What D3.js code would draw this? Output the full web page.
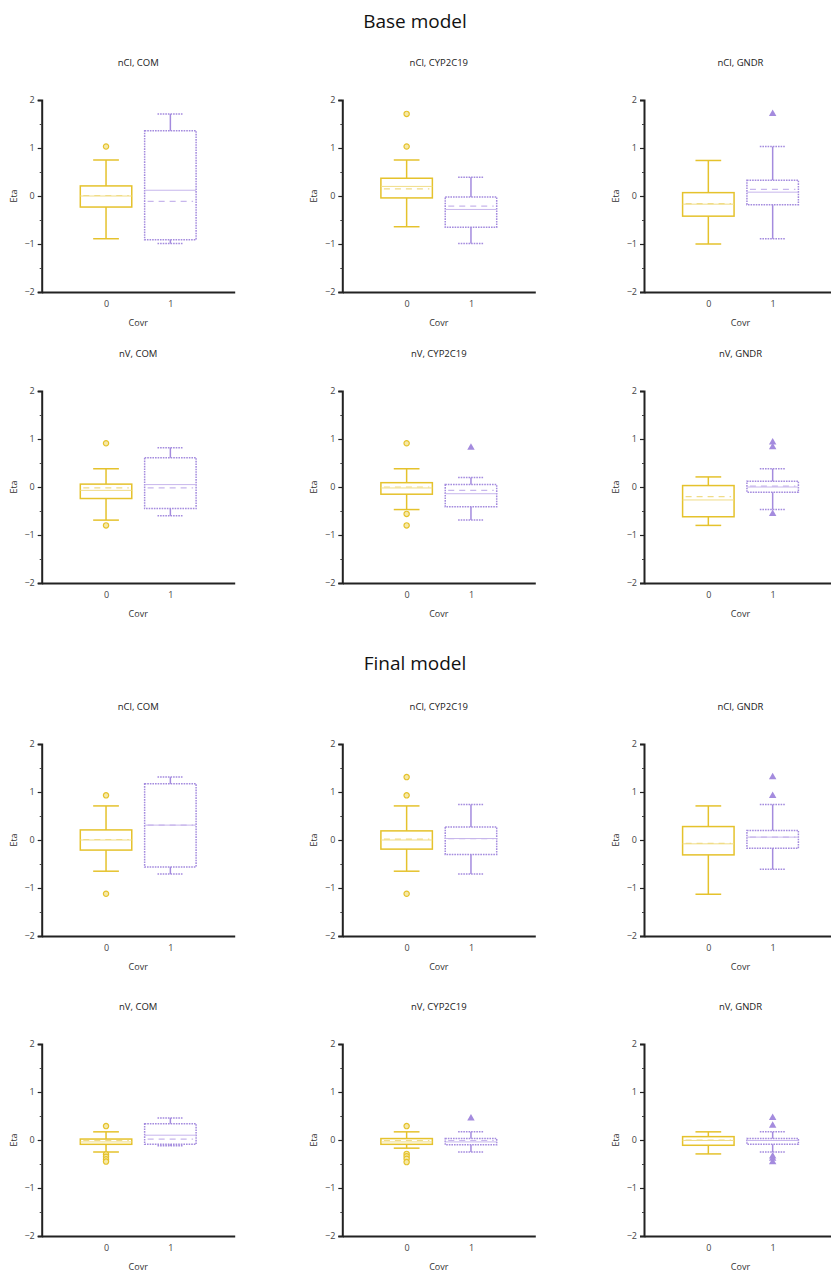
<!DOCTYPE html>
<html>
<head>
<meta charset="utf-8">
<script src="https://cdn.jsdelivr.net/npm/d3@7"></script>
<style>
  body { margin: 0; background: #fff; }
  svg { display: block; font-family: "Open Sans", "Liberation Sans", sans-serif; }
</style>
</head>
<body>
<svg id="chart" width="831" height="1273"></svg>
<script>
// ---------- DATA ----------
const modelTitles = ["Base model", "Final model"];
const panelTitles = [
  "nCl, COM", "nCl, CYP2C19", "nCl, GNDR",
  "nV, COM", "nV, CYP2C19", "nV, GNDR",
  "nCl, COM", "nCl, CYP2C19", "nCl, GNDR",
  "nV, COM", "nV, CYP2C19", "nV, GNDR"
];
const xCategories = [0, 1];
const yTicks = [-2, -1, 0, 1, 2];
const yMinorTicks = [-1.5, -0.5, 0.5, 1.5];
const xLabel = "Covr";
const yLabel = "Eta";
// [whiskerLow, q1, median, mean, q3, whiskerHigh]
const covr0Stats = [
  [-0.89, -0.23, 0.00, 0.01, 0.21, 0.75],
  [-0.64, -0.04, 0.20, 0.15, 0.37, 0.75],
  [-1.00, -0.42, -0.17, -0.16, 0.07, 0.74],
  [-0.69, -0.24, -0.07, -0.02, 0.06, 0.38],
  [-0.47, -0.15, -0.02, 0.00, 0.09, 0.38],
  [-0.80, -0.62, -0.27, -0.20, 0.03, 0.21],
  [-0.65, -0.21, 0.00, 0.01, 0.21, 0.71],
  [-0.65, -0.19, 0.00, 0.02, 0.19, 0.71],
  [-1.13, -0.31, -0.08, -0.07, 0.28, 0.71],
  [-0.25, -0.09, -0.04, -0.01, 0.02, 0.17],
  [-0.17, -0.09, -0.04, -0.01, 0.03, 0.17],
  [-0.29, -0.11, -0.01, 0.00, 0.07, 0.17]
];
const covr1Stats = [
  [-0.99, -0.91, 0.12, -0.11, 1.36, 1.71],
  [-0.99, -0.65, -0.28, -0.21, -0.02, 0.39],
  [-0.89, -0.18, 0.08, 0.14, 0.33, 1.03],
  [-0.60, -0.45, 0.05, -0.02, 0.61, 0.82],
  [-0.69, -0.41, -0.14, -0.07, 0.05, 0.20],
  [-0.47, -0.11, 0.00, 0.02, 0.12, 0.38],
  [-0.71, -0.56, 0.31, 0.31, 1.17, 1.31],
  [-0.71, -0.30, 0.03, 0.03, 0.27, 0.74],
  [-0.61, -0.17, 0.06, 0.06, 0.20, 0.74],
  [-0.12, -0.09, 0.10, 0.02, 0.34, 0.46],
  [-0.25, -0.10, -0.04, -0.01, 0.03, 0.17],
  [-0.25, -0.09, -0.01, -0.01, 0.03, 0.17]
];
const covr0Outliers = [
  [1.03],
  [1.71, 1.03],
  [],
  [0.91, -0.80],
  [0.91, -0.56, -0.80],
  [],
  [0.93, -1.12],
  [1.31, 0.93, -1.12],
  [],
  [0.29, -0.30, -0.35, -0.40, -0.45],
  [0.29, -0.29, -0.34, -0.39, -0.46],
  []
];
const covr1Outliers = [
  [],
  [],
  [1.71],
  [],
  [0.82],
  [0.93, 0.83, -0.56],
  [],
  [],
  [1.31, 0.92],
  [],
  [0.45],
  [0.46, 0.30, -0.34, -0.39, -0.46]
];

// ---------- LAYOUT ----------
const colX = [41.7, 342.3, 644];
const rowY = [100, 391, 744, 1044];
const plotW = 193, plotH = 192;
const modelTitleY = [28, 670];
const colors = {
  c0: "#E5C22C", c0light: "#F0DC86", c0fill: "#F6E9A8",
  c1: "#A48BDE", c1light: "#C7B6EC"
};

const svg = d3.select("#chart");

svg.selectAll("text.model").data(modelTitles).join("text")
  .attr("class", "model")
  .attr("x", 415).attr("y", (d, i) => modelTitleY[i])
  .attr("text-anchor", "middle")
  .attr("font-size", 19).attr("fill", "#111")
  .text(d => d);

const x = d3.scaleLinear().domain([-1, 2]).range([0, plotW]);
const y = d3.scaleLinear().domain([-2, 2]).range([plotH, 0]);
const boxHalf = 0.4, capHalf = 0.2;

panelTitles.forEach((title, i) => {
  const r = Math.floor(i / 3), c = i % 3;
  const g = svg.append("g").attr("transform", `translate(${colX[c]},${rowY[r]})`);

  g.append("text").attr("x", plotW / 2).attr("y", -34)
    .attr("text-anchor", "middle").attr("font-size", 9.5).attr("fill", "#222")
    .text(title);

  // y axis
  const yAxis = d3.axisLeft(y).tickValues(yTicks).tickSize(4).tickPadding(3).tickFormat(d3.format("d"));
  const ya = g.append("g").call(yAxis);
  ya.select(".domain").attr("stroke", "#222").attr("stroke-width", 2);
  ya.selectAll(".tick line").attr("stroke", "#222").attr("stroke-width", 1.2);
  ya.selectAll(".tick text").attr("font-size", 9).attr("fill", "#444")
    .attr("font-family", "Open Sans, Liberation Sans, sans-serif");
  const yMinor = d3.axisLeft(y).tickValues(yMinorTicks).tickSize(2).tickFormat("");
  const ym = g.append("g").call(yMinor);
  ym.select(".domain").remove();
  ym.selectAll(".tick line").attr("stroke", "#444").attr("stroke-width", 1);

  // x axis
  const xAxis = d3.axisBottom(x).tickValues(xCategories).tickSize(0).tickPadding(9).tickFormat(d3.format("d"));
  const xa = g.append("g").attr("transform", `translate(0,${plotH})`).call(xAxis);
  xa.select(".domain").attr("stroke", "#222").attr("stroke-width", 2);
  xa.selectAll(".tick text").attr("font-size", 9).attr("fill", "#444")
    .attr("font-family", "Open Sans, Liberation Sans, sans-serif");

  g.append("text").attr("x", plotW / 2).attr("y", plotH + 34)
    .attr("text-anchor", "middle").attr("font-size", 9).attr("fill", "#333").text(xLabel);
  g.append("text").attr("transform", `translate(-25,${plotH / 2}) rotate(-90)`)
    .attr("text-anchor", "middle").attr("font-size", 9).attr("fill", "#333").text(yLabel);

  const groups = [
    { cat: 0, s: covr0Stats[i], out: covr0Outliers[i], col: colors.c0, light: colors.c0light, dash: null, sym: d3.symbolCircle },
    { cat: 1, s: covr1Stats[i], out: covr1Outliers[i], col: colors.c1, light: colors.c1light, dash: "1.6,1", sym: d3.symbolTriangle }
  ];
  groups.forEach(gr => {
    const [wl, q1, med, mean, q3, wh] = gr.s;
    const cx = x(gr.cat);
    const bx0 = x(gr.cat - boxHalf), bx1 = x(gr.cat + boxHalf);
    const cp0 = x(gr.cat - capHalf), cp1 = x(gr.cat + capHalf);
    const sw = 1.5;
    const line = (x1, y1, x2, y2, opts = {}) => g.append("line")
      .attr("x1", x1).attr("y1", y1).attr("x2", x2).attr("y2", y2)
      .attr("stroke", opts.color || gr.col).attr("stroke-width", opts.w || sw)
      .attr("stroke-dasharray", opts.dash === undefined ? gr.dash : opts.dash);
    // whiskers
    line(cx, y(q3), cx, y(wh), { dash: null });
    line(cx, y(q1), cx, y(wl), { dash: null });
    line(cp0, y(wh), cp1, y(wh));
    line(cp0, y(wl), cp1, y(wl));
    // box
    g.append("rect").attr("x", bx0).attr("y", y(q3))
      .attr("width", bx1 - bx0).attr("height", y(q1) - y(q3))
      .attr("fill", "none").attr("stroke", gr.col).attr("stroke-width", sw)
      .attr("stroke-dasharray", gr.dash);
    // median (solid) and mean (dashed)
    line(bx0, y(med), bx1, y(med), { color: gr.light, w: 1, dash: null });
    line(bx0 + 3, y(mean), bx1 - 3, y(mean), { color: gr.light, w: 1.2, dash: "6,5" });
    // outliers
    g.selectAll(null).data(gr.out).join("path")
      .attr("transform", d => `translate(${cx},${y(d)})`)
      .attr("d", d3.symbol().type(gr.sym).size(gr.cat === 0 ? 22 : 24))
      .attr("fill", gr.cat === 0 ? colors.c0fill : gr.col)
      .attr("stroke", gr.cat === 0 ? gr.col : "none")
      .attr("stroke-width", 1.2);
  });
});
</script>
</body>
</html>
